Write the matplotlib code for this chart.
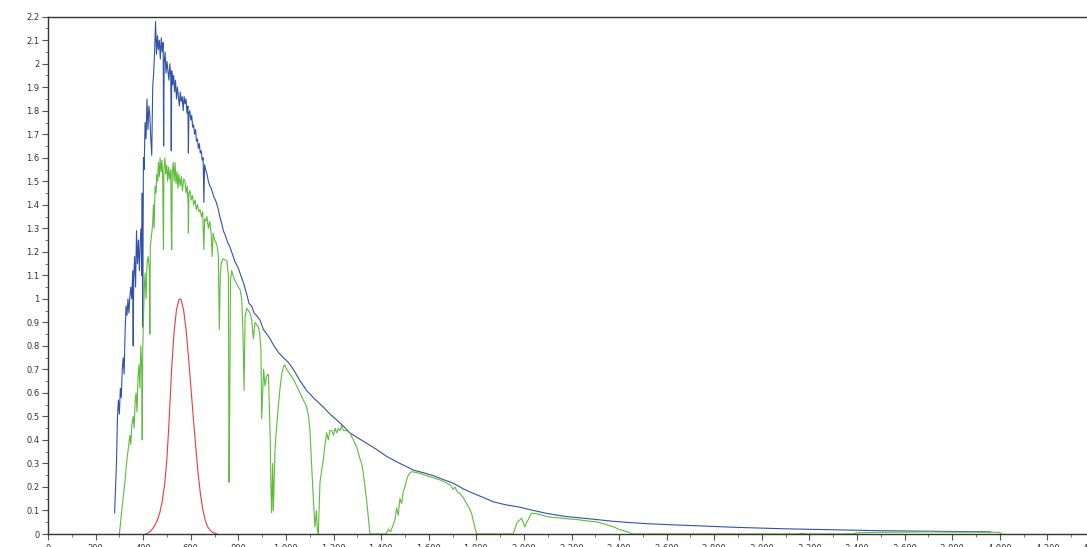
import matplotlib
matplotlib.use('Agg')
import matplotlib.pyplot as plt
from matplotlib.ticker import MultipleLocator, FuncFormatter

# Extraterrestrial spectrum (blue)
wl_space = [280, 284, 288, 292, 296, 300, 304, 308, 312, 316, 320, 324, 328, 332, 336,
            340, 344, 348, 352, 356, 358, 360, 364, 368, 372, 376, 380, 384, 388, 392,
            394, 396, 398, 401, 404, 408, 412, 416, 420, 424, 428, 432, 436, 440, 444,
            448, 452, 456, 460, 464, 468, 472, 476, 480, 484, 486, 488, 492, 496, 500,
            504, 508, 512, 516, 518, 520, 524, 528, 532, 536, 540, 544, 548, 552, 556,
            560, 564, 568, 572, 576, 580, 584, 588, 590, 592, 596, 600, 604, 608, 612,
            616, 620, 624, 628, 632, 636, 640, 644, 648, 652, 655, 658, 662, 666, 670,
            674, 680, 686, 692, 698, 704, 710, 716, 722, 730, 737, 745, 755, 765, 775,
            785, 800, 810, 821, 835, 845, 856, 866, 876, 891, 905, 920, 933, 950, 970,
            989, 1010, 1031, 1060, 1087, 1120, 1157, 1185, 1213, 1240, 1269, 1300, 1339,
            1380, 1423, 1451, 1479, 1500, 1535, 1580, 1619, 1660, 1703, 1745, 1787, 1830,
            1871, 1920, 1983, 2040, 2095, 2140, 2180, 2220, 2263, 2320, 2375, 2440, 2515,
            2600, 2700, 2800, 2900, 3000, 3100, 3200, 3300, 3400, 3500, 3600, 3700, 3800,
            3900, 3960]
irr_space = [0.09, 0.20, 0.31, 0.50, 0.57, 0.51, 0.62, 0.58, 0.70, 0.75, 0.68, 0.86, 0.97, 0.93, 1.00,
             0.94, 1.01, 1.05, 1.00, 1.12, 0.80, 1.08, 1.18, 1.05, 1.29, 1.15, 1.25, 1.12, 1.25, 1.30,
             1.10, 1.45, 0.88, 1.60, 1.55, 1.75, 1.68, 1.85, 1.72, 1.82, 1.78, 1.68, 1.61, 1.90, 1.96,
             2.05, 2.18, 2.04, 2.12, 2.06, 2.10, 2.02, 2.11, 2.05, 2.09, 1.65, 2.00, 2.05, 1.96, 2.01,
             1.97, 1.93, 2.00, 1.94, 1.63, 1.97, 1.91, 1.95, 1.88, 1.93, 1.85, 1.90, 1.86, 1.82, 1.88,
             1.84, 1.86, 1.80, 1.86, 1.83, 1.85, 1.79, 1.82, 1.62, 1.79, 1.80, 1.76, 1.78, 1.73, 1.74,
             1.70, 1.72, 1.67, 1.68, 1.64, 1.66, 1.62, 1.63, 1.59, 1.60, 1.41, 1.57, 1.55, 1.54, 1.52,
             1.50, 1.48, 1.47, 1.45, 1.43, 1.42, 1.40, 1.38, 1.35, 1.32, 1.29, 1.27, 1.24, 1.22, 1.19,
             1.16, 1.13, 1.10, 1.07, 1.02, 0.98, 0.97, 0.94, 0.93, 0.91, 0.87, 0.85, 0.83, 0.80, 0.77,
             0.75, 0.73, 0.70, 0.65, 0.61, 0.575, 0.54, 0.51, 0.485, 0.46, 0.43, 0.41, 0.386,
             0.36, 0.33, 0.315, 0.30, 0.29, 0.272, 0.26, 0.248, 0.232, 0.216, 0.192, 0.173, 0.155,
             0.137, 0.125, 0.114, 0.10, 0.088, 0.080, 0.074, 0.070, 0.066, 0.060, 0.054, 0.049, 0.044,
             0.040, 0.036, 0.032, 0.028, 0.025, 0.022, 0.020, 0.018, 0.016, 0.014, 0.013, 0.012, 0.011,
             0.010, 0.009]

# Ground-level spectrum (green)
wl_ground = [300, 312, 324, 330, 338, 344, 348, 352, 358, 362, 366, 370, 374, 378, 382,
             386, 390, 394, 396, 398, 402, 405, 408, 412, 416, 421, 426, 428, 430, 436,
             440, 443, 446, 450, 454, 457, 461, 464, 468, 471, 475, 479, 482, 485, 487,
             491, 495, 499, 503, 507, 511, 516, 518, 520, 522, 526, 530, 534, 538, 542,
             546, 550, 555, 560, 565, 570, 576, 580, 585, 589, 590, 592, 597, 602, 607,
             612, 618, 623, 628, 633, 639, 645, 650, 655, 658, 663, 668, 674, 680, 686,
             690, 694, 700, 706, 712, 716, 720, 724, 728, 735, 744, 752, 758, 761, 764,
             767, 772, 780, 790, 800, 807, 814, 818, 821, 824, 828, 835, 842, 849, 856,
             863, 870, 877, 884, 890, 895, 898, 902, 906, 912, 918, 926, 930, 934, 937,
             940, 944, 947, 951, 954, 960, 968, 975, 982, 989, 995, 1003, 1010, 1017, 1030,
             1045, 1059, 1073, 1087, 1095, 1101, 1105, 1108, 1115, 1122, 1128, 1132, 1136, 1140, 1143,
             1150, 1157, 1164, 1171, 1178, 1185, 1192, 1200, 1206, 1213, 1220, 1227, 1234, 1241, 1255,
             1269, 1283, 1297, 1311, 1318, 1325, 1332, 1339, 1346, 1353, 1420, 1430, 1440, 1451, 1458,
             1465, 1472, 1479, 1486, 1493, 1500, 1507, 1514, 1521, 1528, 1545, 1563, 1585, 1605, 1625,
             1647, 1668, 1689, 1696, 1703, 1710, 1720, 1731, 1745, 1759, 1770, 1780, 1790, 1801, 1955,
             1962, 1969, 1976, 1983, 1990, 1997, 2004, 2011, 2018, 2025, 2032, 2046, 2060, 2078, 2095,
             2130, 2165, 2200, 2235, 2270, 2305, 2340, 2375, 2400, 2431, 2459, 3150, 3170, 3190, 3380,
             3400, 3500, 3600, 3700, 3800, 3900, 4000, 4008]
irr_ground = [0.0, 0.12, 0.23, 0.30, 0.37, 0.42, 0.38, 0.46, 0.50, 0.45, 0.56, 0.60, 0.52, 0.66, 0.72,
              0.62, 0.80, 0.70, 0.40, 0.78, 0.95, 1.05, 1.11, 1.00, 1.15, 1.18, 1.12, 0.85, 1.22, 1.28,
              1.32, 1.40, 1.30, 1.48, 1.45, 1.53, 1.50, 1.58, 1.52, 1.60, 1.54, 1.59, 1.52, 1.21, 1.55,
              1.60, 1.53, 1.57, 1.50, 1.56, 1.51, 1.55, 1.30, 1.21, 1.53, 1.58, 1.50, 1.58, 1.49, 1.54,
              1.47, 1.53, 1.48, 1.52, 1.46, 1.51, 1.50, 1.45, 1.48, 1.40, 1.28, 1.45, 1.46, 1.42, 1.44,
              1.40, 1.42, 1.38, 1.40, 1.37, 1.38, 1.35, 1.37, 1.21, 1.34, 1.33, 1.35, 1.30, 1.33, 1.27,
              1.18, 1.28, 1.25, 1.24, 1.22, 1.18, 0.87, 1.10, 1.15, 1.17, 1.166, 1.16, 1.10, 0.22, 0.60,
              1.08, 1.12, 1.09, 1.07, 1.05, 1.04, 1.00, 0.90, 0.77, 0.61, 0.92, 0.96, 0.95, 0.94, 0.91,
              0.83, 0.90, 0.89, 0.88, 0.85, 0.78, 0.49, 0.60, 0.70, 0.63, 0.67, 0.68, 0.55, 0.40, 0.20,
              0.09, 0.30, 0.10, 0.25, 0.36, 0.45, 0.54, 0.62, 0.68, 0.71, 0.72, 0.70, 0.69, 0.68, 0.66,
              0.63, 0.60, 0.57, 0.54, 0.50, 0.44, 0.35, 0.29, 0.15, 0.03, 0.10, 0.02, 0.0, 0.12, 0.22,
              0.27, 0.315, 0.38, 0.43, 0.40, 0.44, 0.44, 0.42, 0.45, 0.43, 0.45, 0.44, 0.46, 0.44, 0.44,
              0.43, 0.40, 0.37, 0.32, 0.30, 0.26, 0.20, 0.145, 0.07, 0.0, 0.0, 0.02, 0.01, 0.04, 0.06,
              0.11, 0.08, 0.15, 0.13, 0.18, 0.20, 0.23, 0.25, 0.26, 0.265, 0.262, 0.258, 0.250, 0.244, 0.237,
              0.23, 0.22, 0.21, 0.20, 0.19, 0.20, 0.18, 0.173, 0.155, 0.13, 0.11, 0.088, 0.045, 0.0, 0.0,
              0.02, 0.045, 0.055, 0.06, 0.067, 0.05, 0.03, 0.05, 0.06, 0.075, 0.088, 0.087, 0.085, 0.08, 0.074,
              0.07, 0.067, 0.063, 0.06, 0.055, 0.052, 0.042, 0.031, 0.02, 0.01, 0.0, 0.0, 0.003, 0.0, 0.0,
              0.005, 0.007, 0.008, 0.009, 0.008, 0.008, 0.007, 0.0]

# Eye sensitivity curve (red)
wl_eye = [410, 420, 430, 440, 450, 460, 470, 480, 490, 500, 510, 520, 530, 540, 550,
          555, 560, 570, 580, 590, 600, 610, 620, 630, 640, 650, 660, 670, 680, 690, 700, 710]
eye = [0.0, 0.004, 0.012, 0.023, 0.038, 0.060, 0.091, 0.139, 0.208, 0.323, 0.503, 0.710, 0.862, 0.954, 0.995,
       1.0, 0.995, 0.952, 0.870, 0.757, 0.631, 0.503, 0.381, 0.265, 0.175, 0.107, 0.061, 0.032, 0.017, 0.008, 0.004, 0.0]

fig = plt.figure(figsize=(10.87, 5.47), dpi=100)
ax = fig.add_axes([48 / 1087, 13 / 547, 1047 / 1087, 517.3 / 547])

ax.plot(wl_space, irr_space, color='#3152a6', lw=0.8)
ax.plot(wl_ground, irr_ground, color='#5fbb3c', lw=0.8)
ax.plot(wl_eye, eye, color='#ee3a3a', lw=0.8)

ax.set_xlim(0, 4400)
ax.set_ylim(0, 2.2)
ax.xaxis.set_major_locator(MultipleLocator(200))
ax.xaxis.set_minor_locator(MultipleLocator(100))
ax.yaxis.set_major_locator(MultipleLocator(0.1))
ax.yaxis.set_minor_locator(MultipleLocator(0.05))
ax.xaxis.set_major_formatter(FuncFormatter(lambda v, p: '{:,.0f}'.format(v).replace(',', ' ')))
ax.yaxis.set_major_formatter(FuncFormatter(lambda v, p: '{:g}'.format(round(v, 2))))

for s in ['left', 'bottom', 'top', 'right']:
    ax.spines[s].set_color('#333333')
    ax.spines[s].set_linewidth(1.0)
ax.tick_params(which='major', direction='out', length=4, width=0.8, color='#555555',
               labelsize=6, labelcolor='#333333', pad=2)
ax.tick_params(axis='x', which='major', pad=3)
ax.tick_params(which='minor', direction='out', length=2, width=0.7, color='#777777')

fig.savefig('out.png', dpi=100)
